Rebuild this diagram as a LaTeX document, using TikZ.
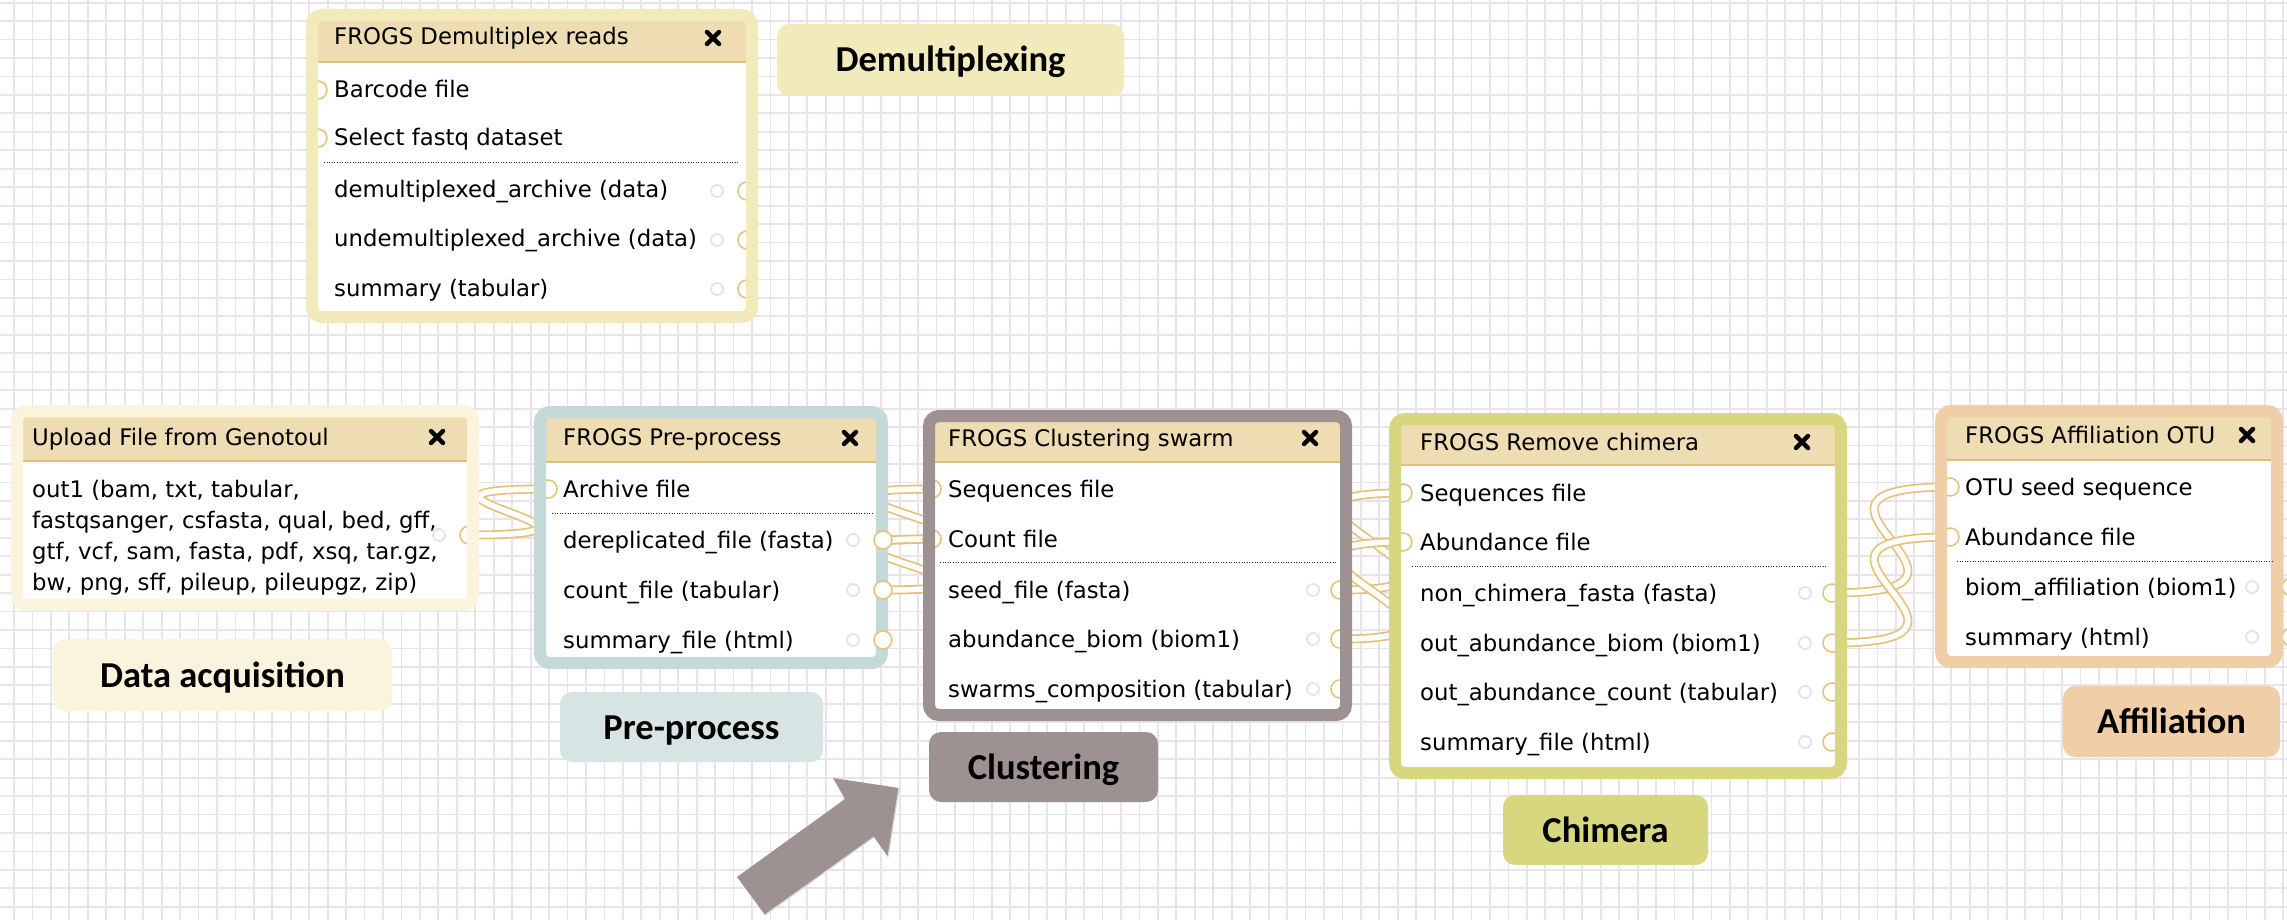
\documentclass[tikz,border=0pt]{standalone}
\usepackage{fontspec}
\setmainfont{DejaVu Sans}
\newfontfamily\labelfont{Carlito}

\begin{document}
\begin{tikzpicture}[x=1pt,y=-1pt,
    row/.style={anchor=base west, inner sep=0pt, font=\fontsize{22.8}{27}\selectfont},
    stage/.style={rounded corners=12pt, inner sep=0pt, text height=24pt, text depth=0pt,
        font=\labelfont\bfseries\fontsize{36.5}{40}\selectfont},
    wire/.style={draw=mywire, line width=1.7pt, double=white, double distance=5.6pt},
    port/.style={draw=mywire, fill=white, line width=1.5pt},
    gear/.style={draw=mygear, line width=1.8pt},
    cross/.style={line width=4.5pt, line cap=round}]
    \definecolor{mygrid}{RGB}{233,228,235}
    \definecolor{mytitle}{RGB}{238,220,178}
    \definecolor{mytitleline}{RGB}{222,192,122}
    \definecolor{mywire}{RGB}{229,193,120}
    \definecolor{mygear}{RGB}{228,228,228}
    \definecolor{mydemux}{RGB}{243,234,187}
    \definecolor{myupload}{RGB}{250,244,222}
    \definecolor{mypre}{RGB}{197,217,216}
    \definecolor{myprelbl}{RGB}{214,228,228}
    \definecolor{myclust}{RGB}{157,145,145}
    \definecolor{mychim}{RGB}{216,215,128}
    \definecolor{myaffi}{RGB}{240,207,168}

    \useasboundingbox (0,0) rectangle (2287,920);
    \fill[white] (0,0) rectangle (2287,920);
    \foreach \i in {0,...,123}
        \draw[mygrid, line width=1.8pt] (14+18.45*\i,0) -- (14+18.45*\i,920);
    \foreach \j in {0,...,49}
        \draw[mygrid, line width=1.8pt] (0,2.7+18.45*\j) -- (2287,2.7+18.45*\j);

    % ports
    \coordinate (upOut) at (469,535);
    \coordinate (preIn) at (548,489);
    \coordinate (preDerep) at (883,540);
    \coordinate (preCount) at (883,590);
    \coordinate (preSum) at (883,640);
    \coordinate (clSeqIn) at (932,489);
    \coordinate (clCountIn) at (932,539);
    \coordinate (clSeed) at (1340,590);
    \coordinate (clBiom) at (1340,639);
    \coordinate (clSwarm) at (1340,689);
    \coordinate (chSeqIn) at (1403,493);
    \coordinate (chAbundIn) at (1403,542);
    \coordinate (chFasta) at (1832,593);
    \coordinate (chBiom) at (1832,643);
    \coordinate (chCount) at (1832,692);
    \coordinate (chSum) at (1832,742);
    \coordinate (afSeqIn) at (1950,487);
    \coordinate (afAbundIn) at (1950,537);

    % wires
    \foreach \a/\b in {upOut/preIn, preDerep/clSeqIn, preCount/clCountIn, clSeed/chSeqIn,
            clBiom/chAbundIn, chFasta/afSeqIn, chBiom/afAbundIn}
        \draw[wire] (\a) .. controls +(200,0) and +(-200,0) .. (\b);

    % tool boxes
    \def\frames{306/9/758/323/62/mydemux, 11/405/479/611/461/myupload, 534/406/888/669/462/mypre,
        923/410/1352/721/462/myclust, 1389/413/1847/779/465/mychim, 1935/405/2283/668/460/myaffi}
    \foreach \xa/\ya/\xb/\yb/\tb/\col in \frames {
        \fill[white] (\xa+6,\ya+6) rectangle (\xb-6,\yb-6);
        \fill[mytitle] (\xa+6,\ya+6) rectangle (\xb-6,\tb);
        \draw[mytitleline, line width=1.5pt] (\xa+6,\tb) -- (\xb-6,\tb);
    }
    \foreach \p in {upOut, preIn, clSeqIn, clCountIn, clSeed, clBiom, clSwarm, chSeqIn, chAbundIn,
            chFasta, chBiom, chCount, chSum, afSeqIn, afAbundIn}
        \draw[port] (\p) circle[radius=9pt];
    \foreach \x/\y in {318/90, 318/138, 747/191, 747/240, 747/289, 2291/587, 2291/637}
        \draw[port] (\x,\y) circle[radius=9pt];
    \foreach \xa/\ya/\xb/\yb/\tb/\col in \frames
        \draw[\col, line width=12pt, rounded corners=10pt] (\xa+6,\ya+6) rectangle (\xb-6,\yb-6);
    \foreach \p in {preDerep, preCount, preSum}
        \draw[port] (\p) circle[radius=9pt];

    \foreach \x/\y in {717/191, 717/240, 717/289, 439/535, 853/540, 853/590, 853/640, 1313/590,
            1313/639, 1313/689, 1805/593, 1805/643, 1805/692, 1805/742, 2252/587, 2252/637}
        \draw[gear] (\x,\y) circle[radius=6pt];
    \foreach \x/\y in {713/38, 437/437, 850/438, 1310/438, 1802/442, 2247/435}
        \draw[cross] (\x-6,\y-6) -- (\x+6,\y+6) (\x-6,\y+6) -- (\x+6,\y-6);
    \foreach \xa/\xb/\y in {324/739/163, 552/874/513, 940/1336/562, 1412/1828/566, 1957/2272/561}
        \draw[black!80, line width=1pt, dash pattern=on 1pt off 1.6pt] (\xa,\y) -- (\xb,\y);

    \node[row] (dmTitle) at (334,45) {FROGS Demultiplex reads};
    \node[row] (dmBarcode) at (334,98) {Barcode file};
    \node[row] (dmFastq) at (334,146) {Select fastq dataset};
    \node[row] (dmArch) at (334,198) {demultiplexed\_archive (data)};
    \node[row] (dmUnArch) at (334,247) {undemultiplexed\_archive (data)};
    \node[row] (dmSummary) at (334,296) {summary (tabular)};

    \node[row] (upTitle) at (32,445) {Upload File from Genotoul};
    \node[row] (upLineA) at (32,497) {out1 (bam, txt, tabular,};
    \node[row] (upLineB) at (32,528) {fastqsanger, csfasta, qual, bed, gff,};
    \node[row] (upLineC) at (32,559) {gtf, vcf, sam, fasta, pdf, xsq, tar.gz,};
    \node[row] (upLineD) at (32,590) {bw, png, sff, pileup, pileupgz, zip)};

    \node[row] (preTitle) at (563,445) {FROGS Pre-process};
    \node[row] (preArch) at (563,497) {Archive file};
    \node[row] (preDerepTxt) at (563,548) {dereplicated\_file (fasta)};
    \node[row] (preCountTxt) at (563,598) {count\_file (tabular)};
    \node[row] (preSumTxt) at (563,648) {summary\_file (html)};

    \node[row] (clTitle) at (948,446) {FROGS Clustering swarm};
    \node[row] (clSeqTxt) at (948,497) {Sequences file};
    \node[row] (clCountTxt) at (948,547) {Count file};
    \node[row] (clSeedTxt) at (948,598) {seed\_file (fasta)};
    \node[row] (clBiomTxt) at (948,647) {abundance\_biom (biom1)};
    \node[row] (clSwarmTxt) at (948,697) {swarms\_composition (tabular)};

    \node[row] (chTitle) at (1420,450) {FROGS Remove chimera};
    \node[row] (chSeqTxt) at (1420,501) {Sequences file};
    \node[row] (chAbundTxt) at (1420,550) {Abundance file};
    \node[row] (chFastaTxt) at (1420,601) {non\_chimera\_fasta (fasta)};
    \node[row] (chBiomTxt) at (1420,651) {out\_abundance\_biom (biom1)};
    \node[row] (chCountTxt) at (1420,700) {out\_abundance\_count (tabular)};
    \node[row] (chSumTxt) at (1420,750) {summary\_file (html)};

    \node[row] (afTitle) at (1965,443) {FROGS Affiliation OTU};
    \node[row] (afSeqTxt) at (1965,495) {OTU seed sequence};
    \node[row] (afAbundTxt) at (1965,545) {Abundance file};
    \node[row] (afBiomTxt) at (1965,595) {biom\_affiliation (biom1)};
    \node[row] (afSumTxt) at (1965,645) {summary (html)};

    % stage labels
    \node[stage, fill=mydemux, minimum width=347pt, minimum height=72pt] (lblDemux) at (950.5,60) {Demultiplexing};
    \node[stage, fill=myupload, minimum width=339pt, minimum height=72pt] (lblData) at (222.5,675) {Data acquisition};
    \node[stage, fill=myprelbl, minimum width=263pt, minimum height=70pt] (lblPre) at (691.5,727) {Pre-process};
    \node[stage, fill=myclust, minimum width=229pt, minimum height=70pt] (lblClust) at (1043.5,767) {Clustering};
    \node[stage, fill=mychim, minimum width=205pt, minimum height=70pt] (lblChim) at (1605.5,830) {Chimera};
    \node[stage, fill=myaffi, minimum width=217pt, minimum height=71pt] (lblAffi) at (2171.5,721.5) {Affiliation};

    % block arrow
    \fill[myclust] (737,877) -- (845,799) -- (833,778) -- (899,788) -- (888,857) -- (874,837) -- (765,915) -- cycle;
    \draw[myclust!35!white, line width=1.2pt] (765,915) -- (874,837) (899,788) -- (888,857);
\end{tikzpicture}
\end{document}
